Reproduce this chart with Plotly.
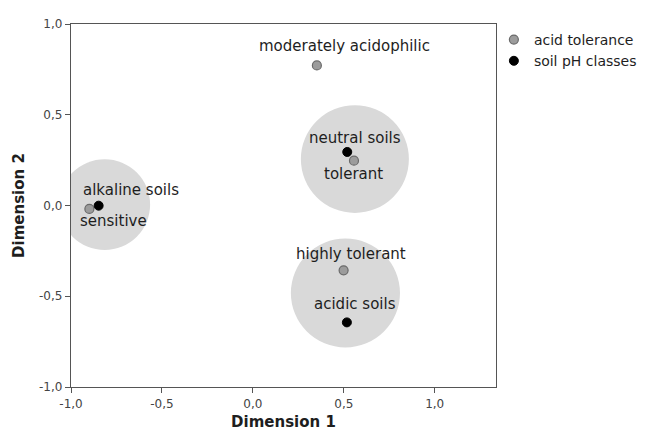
import plotly.graph_objects as go

# Data
acid_labels = ["moderately acidophilic", "tolerant", "highly tolerant", "sensitive"]
acid_x = [0.352, 0.556, 0.499, -0.899]
acid_y = [0.772, 0.247, -0.357, -0.019]

soil_labels = ["neutral soils", "acidic soils", "alkaline soils"]
soil_x = [0.519, 0.517, -0.848]
soil_y = [0.295, -0.644, -0.001]

cluster_cx = [-0.815, 0.561, 0.509]
cluster_cy = [0.005, 0.256, -0.482]
cluster_r = [0.25, 0.297, 0.30]

tick_vals = [-1.0, -0.5, 0.0, 0.5, 1.0]
tick_text = ["-1,0", "-0,5", "0,0", "0,5", "1,0"]

# label offsets (pixels) - style
acid_shift = [(28, 19), (0, -13), (7, 16), (24, -12)]
soil_shift = [(8, 14), (8, 18), (32, 16)]

FONT = "DejaVu Sans"
LABEL_SIZE = 15

fig = go.Figure()

fig.add_trace(go.Scatter(
    x=acid_x, y=acid_y, mode="markers", name="acid tolerance",
    marker=dict(size=9, color="#9c9c9c", line=dict(color="#6a6a6a", width=1.2)),
))
fig.add_trace(go.Scatter(
    x=soil_x, y=soil_y, mode="markers", name="soil pH classes",
    marker=dict(size=9, color="#000000", line=dict(color="#000000", width=1)),
))

for cx, cy, r in zip(cluster_cx, cluster_cy, cluster_r):
    fig.add_shape(type="circle", xref="x", yref="y",
                  x0=cx - r, x1=cx + r, y0=cy - r, y1=cy + r,
                  fillcolor="#d9d9d9", line=dict(width=0), layer="below")

annotations = []
for lab, x, y, (dx, dy) in zip(acid_labels, acid_x, acid_y, acid_shift):
    annotations.append(dict(x=x, y=y, text=lab, showarrow=False, xshift=dx, yshift=dy,
                            font=dict(family=FONT, size=LABEL_SIZE, color="#1e1e1e")))
for lab, x, y, (dx, dy) in zip(soil_labels, soil_x, soil_y, soil_shift):
    annotations.append(dict(x=x, y=y, text=lab, showarrow=False, xshift=dx, yshift=dy,
                            font=dict(family=FONT, size=LABEL_SIZE, color="#1e1e1e")))

axis_common = dict(
    tickvals=tick_vals, ticktext=tick_text, showgrid=False, zeroline=False,
    showline=True, mirror=True, linecolor="#555555", linewidth=1.3,
    ticks="outside", ticklen=5, tickcolor="#555555", tickwidth=1.3,
    tickfont=dict(family=FONT, size=12, color="#444444"),
)

fig.update_layout(
    width=646, height=433,
    margin=dict(l=63, r=158, t=16, b=54, autoexpand=False),
    plot_bgcolor="white", paper_bgcolor="white",
    font=dict(family=FONT),
    annotations=annotations,
    xaxis=dict(range=[-1.0, 1.337], title=dict(text="<b>Dimension 1</b>", standoff=6,
               font=dict(family=FONT, size=15, color="#1e1e1e")), **axis_common),
    yaxis=dict(range=[-1.0, 1.0], title=dict(text="<b>Dimension 2</b>", standoff=10,
               font=dict(family=FONT, size=15, color="#1e1e1e")), **axis_common),
    showlegend=True,
    legend=dict(x=0.995, xanchor="left", y=1.0, yanchor="top", itemwidth=30,
                font=dict(family=FONT, size=14, color="#1e1e1e"),
                bgcolor="rgba(0,0,0,0)", tracegroupgap=0),
)

fig.write_html("out.html")
